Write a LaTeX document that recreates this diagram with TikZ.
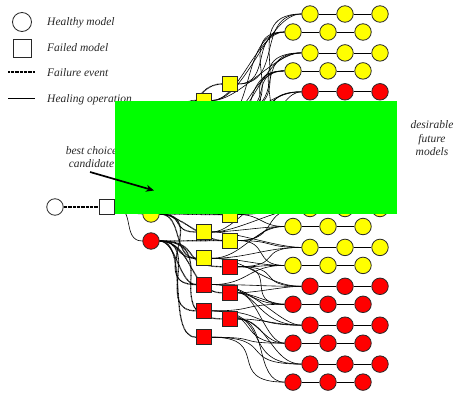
\documentclass[tikz,border=0pt]{standalone}
\usepackage{fontspec}
\setmainfont{Liberation Serif}
\usetikzlibrary{arrows.meta,backgrounds}
\definecolor{modelyellow}{RGB}{255,255,0}
\definecolor{modelred}{RGB}{255,0,0}
\definecolor{maskgreen}{RGB}{0,255,0}
\definecolor{ink}{RGB}{40,40,40}

\begin{document}
\begin{tikzpicture}[x=1pt,y=-1pt,
  healthy/.style={circle,draw=ink,line width=0.8pt,minimum size=16.5pt,inner sep=0pt},
  failed/.style={rectangle,draw=ink,line width=0.8pt,minimum size=15pt,inner sep=0pt},
  heal/.style={black,line width=0.6pt},
  fail/.style={black,line width=1.2pt,dash pattern=on 0.8pt off 0.5pt},
  wave/.style={out=0,in=180,looseness=#1},
  wave/.default=1.2,
  lbl/.style={font=\itshape\fontsize{11.5}{13.5}\selectfont,text=ink,inner sep=0pt},
]
\useasboundingbox (0,0) rectangle (457,393);

% ---------- legend ----------
\node[healthy,minimum size=19pt] (lgh) at (22,22) {};
\node[failed,minimum size=18pt] (lgf) at (22,48) {};
\coordinate (lgea) at (8,72);  \coordinate (lgeb) at (35,72);
\coordinate (lgoa) at (8,98);  \coordinate (lgob) at (35,98);
\draw[fail] (lgea) -- (lgeb);
\draw[heal] (lgoa) -- (lgob);
\node[lbl,anchor=base west] (lgth) at (47,26)    {Healthy model};
\node[lbl,anchor=base west] (lgtf) at (47,51.5)  {Failed model};
\node[lbl,anchor=base west] (lgte) at (47,76.5)  {Failure event};
\node[lbl,anchor=base west] (lgto) at (47,102.3) {Healing operation};

% ---------- root ----------
\node[healthy,fill=white] (h0) at (55,207) {};
\node[failed,fill=white]  (f0) at (107,207) {};

% ---------- first healed models ----------
\foreach \j/\y/\col in {0/112/modelyellow,1/137/modelyellow,2/162/modelyellow,
                        3/188/modelyellow,4/214/modelyellow,5/241/modelred}
  \node[healthy,fill=\col] (c\j) at (151,\y) {};

% ---------- failed models (two staggered columns) ----------
\foreach \s/\col in {0/modelyellow,1/modelyellow,2/modelyellow,3/modelyellow,
                     4/modelyellow,5/modelyellow,6/modelred,7/modelyellow,
                     8/modelred,9/modelyellow,10/modelyellow,11/modelyellow,
                     12/modelyellow,13/modelyellow,14/modelred,15/modelred,
                     16/modelred,17/modelred,18/modelred,19/modelred}{
  \pgfmathsetmacro\sx{ifthenelse(mod(\s,2)==0,230,204)}
  \pgfmathsetmacro\sy{ifthenelse(mod(\s,2)==0,84+13.05*\s,100.5+13.15*(\s-1))}
  \node[failed,fill=\col] (sq\s) at (\sx,\sy) {};
}

% ---------- future models (rows of three) ----------
\foreach \r/\col in {0/modelyellow,1/modelyellow,2/modelyellow,3/modelyellow,
                     4/modelred,5/modelred,6/modelyellow,7/modelred,
                     8/modelyellow,9/modelred,10/modelyellow,11/modelyellow,
                     12/modelyellow,13/modelyellow,14/modelred,15/modelred,
                     16/modelred,17/modelred,18/modelred,19/modelred}{
  \pgfmathsetmacro\rx{ifthenelse(mod(\r,2)==0,310,293)}
  \pgfmathsetmacro\ry{ifthenelse(mod(\r,2)==0,14+19.45*\r,32+19.45*(\r-1))}
  \foreach \k in {1,2,3}
    \node[healthy,fill=\col] (m\r-\k) at ({\rx+35*(\k-1)},\ry) {};
}

% ---------- connectors ----------
\begin{scope}[on background layer]
  \draw[fail] (h0) -- (f0);
  \foreach \j in {0,...,5}
    \draw[heal] (f0.east) to[wave] (c\j.west);
  % failure events: each healed model breaks into several failed models
  \foreach \j/\targets in {0/{1,2,3,4},1/{0,2,3,5,6},2/{4,5,6,7,8},
                           3/{6,7,8,9,10},4/{9,10,11,12,13,15},
                           5/{12,13,14,15,16,17,18,19}}
    \foreach \s in \targets {
      \pgfmathsetmacro\lz{0.75+0.3*mod(\s+\j,4)}
      \draw[fail] (c\j.east) to[wave=\lz] (sq\s.west);
    }
  % healing operations: each failed model is repaired into several rows
  \foreach \s in {0,...,19}
    \foreach \d in {-2,-1,0,1}{
      \pgfmathtruncatemacro\r{\s+\d}
      \pgfmathsetmacro\lz{0.7+0.28*mod(3*\s+5*\d+7,5)}
      \ifnum\r>-1 \ifnum\r<20
        \draw[heal] (sq\s.east) to[wave=\lz] (m\r-1.west);
      \fi\fi
    }
  \foreach \r in {0,...,19}
    \draw[heal] (m\r-1) -- (m\r-2) -- (m\r-3);
\end{scope}

% ---------- annotations ----------
\node[lbl,anchor=base] (bca) at (91.5,154) {best choice};
\node[lbl,anchor=base] (bcb) at (91.5,167) {candidate};

\fill[maskgreen] (115,101) rectangle (397,214);

\coordinate (bcfoot) at (90,172);
\coordinate (bctarget) at (154,190.5);
\draw[line width=1.7pt,-{Stealth[length=8pt,width=7pt]}] (bcfoot) -- (bctarget);

\node[lbl,anchor=base] (dfa) at (432,128.5) {desirable};
\node[lbl,anchor=base] (dfb) at (432,142)   {future};
\node[lbl,anchor=base] (dfc) at (432,155.5) {models};
\end{tikzpicture}
\end{document}
